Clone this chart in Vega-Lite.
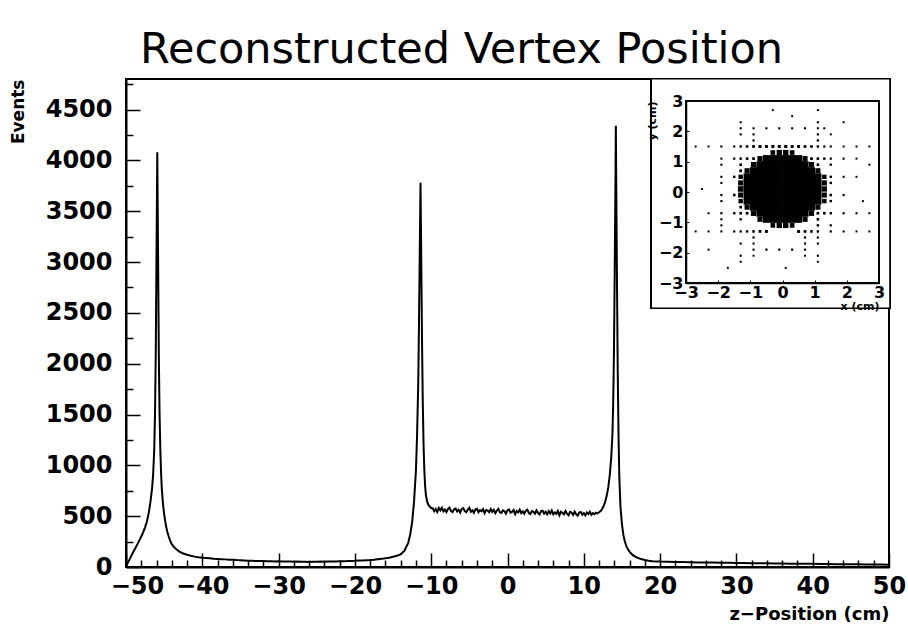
{
"$schema": "https://vega.github.io/schema/vega-lite/v6.json",
"width": 763,
"height": 488,
"autosize": {"type": "none"},
"padding": {"left": 126, "top": 79, "right": 19, "bottom": 59},
"background": "white",
"config": {"view": {"stroke": "black", "strokeWidth": 2}, "font": "DejaVu Sans"},
"title": {"text": "Reconstructed Vertex Position", "fontSize": 43, "fontWeight": "normal", "font": "DejaVu Sans", "color": "black", "anchor": "middle", "frame": "group", "dx": -46, "dy": 47, "baseline": "alphabetic", "offset": 13},
"datasets": {
"zpos": [
{"z":-50,"events":10},{"z":-49.75,"events":45},{"z":-49.5,"events":80},{"z":-49.25,"events":118},{"z":-49,"events":155},{"z":-48.75,"events":190},{"z":-48.5,"events":225},{"z":-48.25,"events":262},{"z":-48,"events":300},{"z":-47.75,"events":340},{"z":-47.5,"events":390},{"z":-47.25,"events":450},{"z":-47,"events":540},{"z":-46.8,"events":640},{"z":-46.6,"events":760},{"z":-46.45,"events":900},{"z":-46.3,"events":1150},{"z":-46.2,"events":1500},{"z":-46.1,"events":2100},{"z":-46,"events":3100},{"z":-45.9,"events":4080},{"z":-45.8,"events":3100},{"z":-45.7,"events":2100},{"z":-45.6,"events":1500},{"z":-45.5,"events":1150},{"z":-45.4,"events":920},{"z":-45.3,"events":760},{"z":-45.15,"events":620},{"z":-45,"events":520},{"z":-44.8,"events":420},{"z":-44.6,"events":350},{"z":-44.4,"events":300},{"z":-44.2,"events":257},{"z":-44,"events":225},{"z":-43.7,"events":195},{"z":-43.4,"events":175},{"z":-43,"events":152},{"z":-42.5,"events":133},{"z":-42,"events":120},{"z":-41.5,"events":110},{"z":-41,"events":102},{"z":-40.5,"events":96},{"z":-40,"events":91},{"z":-39.5,"events":88},{"z":-39,"events":85},{"z":-38.5,"events":81},{"z":-38,"events":79},{"z":-37.5,"events":77},{"z":-37,"events":75},{"z":-36.5,"events":72},{"z":-36,"events":71},{"z":-35.5,"events":68},{"z":-35,"events":67},{"z":-34.5,"events":65},{"z":-34,"events":62},{"z":-33.5,"events":61},{"z":-33,"events":60},{"z":-32.5,"events":58},{"z":-32,"events":59},{"z":-31.5,"events":56},{"z":-31,"events":57},{"z":-30.5,"events":55},{"z":-30,"events":56},{"z":-29.5,"events":54},{"z":-29,"events":53},{"z":-28.5,"events":55},{"z":-28,"events":52},{"z":-27.5,"events":53},{"z":-27,"events":51},{"z":-26.5,"events":52},{"z":-26,"events":50},{"z":-25.5,"events":52},{"z":-25,"events":51},{"z":-24.5,"events":53},{"z":-24,"events":52},{"z":-23.5,"events":54},{"z":-23,"events":53},{"z":-22.5,"events":55},{"z":-22,"events":56},{"z":-21.5,"events":57},{"z":-21,"events":58},{"z":-20.5,"events":60},{"z":-20,"events":61},{"z":-19.5,"events":63},{"z":-19,"events":64},{"z":-18.5,"events":67},{"z":-18,"events":69},{"z":-17.5,"events":72},{"z":-17,"events":76},{"z":-16.5,"events":80},{"z":-16,"events":85},{"z":-15.5,"events":92},{"z":-15,"events":100},{"z":-14.5,"events":110},{"z":-14,"events":125},{"z":-13.5,"events":160},{"z":-13,"events":240},{"z":-12.75,"events":320},{"z":-12.5,"events":440},{"z":-12.25,"events":640},{"z":-12,"events":950},{"z":-11.85,"events":1300},{"z":-11.7,"events":1800},{"z":-11.6,"events":2400},{"z":-11.5,"events":3100},{"z":-11.4,"events":3780},{"z":-11.3,"events":3000},{"z":-11.2,"events":2200},{"z":-11.1,"events":1600},{"z":-11,"events":1200},{"z":-10.9,"events":950},{"z":-10.8,"events":800},{"z":-10.7,"events":710},{"z":-10.55,"events":650},{"z":-10.4,"events":615},{"z":-10.2,"events":595},{"z":-10,"events":580},
{"z":-9.8,"events":578},{"z":-9.6,"events":548},{"z":-9.4,"events":570},{"z":-9.2,"events":541},{"z":-9,"events":581},{"z":-8.8,"events":557},{"z":-8.6,"events":583},{"z":-8.4,"events":548},{"z":-8.2,"events":565},{"z":-8,"events":540},{"z":-7.8,"events":572},{"z":-7.6,"events":584},{"z":-7.4,"events":550},{"z":-7.2,"events":541},{"z":-7,"events":567},{"z":-6.8,"events":575},{"z":-6.6,"events":546},{"z":-6.4,"events":563},{"z":-6.2,"events":534},{"z":-6,"events":571},{"z":-5.8,"events":579},{"z":-5.6,"events":549},{"z":-5.4,"events":538},{"z":-5.2,"events":566},{"z":-5,"events":583},{"z":-4.8,"events":544},{"z":-4.6,"events":557},{"z":-4.4,"events":533},{"z":-4.2,"events":567},{"z":-4,"events":573},{"z":-3.8,"events":539},{"z":-3.6,"events":559},{"z":-3.4,"events":548},{"z":-3.2,"events":570},{"z":-3,"events":530},{"z":-2.8,"events":561},{"z":-2.6,"events":554},{"z":-2.4,"events":538},{"z":-2.2,"events":571},{"z":-2,"events":542},{"z":-1.8,"events":563},{"z":-1.6,"events":530},{"z":-1.4,"events":554},{"z":-1.2,"events":572},{"z":-1,"events":538},{"z":-0.8,"events":532},{"z":-0.6,"events":558},{"z":-0.4,"events":549},{"z":-0.2,"events":525},{"z":0,"events":559},{"z":0.2,"events":565},{"z":0.4,"events":534},{"z":0.6,"events":542},{"z":0.8,"events":561},{"z":1,"events":520},{"z":1.2,"events":552},{"z":1.4,"events":537},{"z":1.6,"events":564},{"z":1.8,"events":529},{"z":2,"events":547},{"z":2.2,"events":524},{"z":2.4,"events":554},{"z":2.6,"events":563},{"z":2.8,"events":531},{"z":3,"events":521},{"z":3.2,"events":550},{"z":3.4,"events":543},{"z":3.6,"events":525},{"z":3.8,"events":557},{"z":4,"events":533},{"z":4.2,"events":516},{"z":4.4,"events":549},{"z":4.6,"events":553},{"z":4.8,"events":524},{"z":5,"events":543},{"z":5.2,"events":517},{"z":5.4,"events":550},{"z":5.6,"events":527},{"z":5.8,"events":556},{"z":6,"events":519},{"z":6.2,"events":537},{"z":6.4,"events":523},{"z":6.6,"events":551},{"z":6.8,"events":509},{"z":7,"events":543},{"z":7.2,"events":534},{"z":7.4,"events":518},{"z":7.6,"events":551},{"z":7.8,"events":525},{"z":8,"events":510},{"z":8.2,"events":543},{"z":8.4,"events":535},{"z":8.6,"events":512},{"z":8.8,"events":545},{"z":9,"events":519},{"z":9.2,"events":506},{"z":9.4,"events":536},{"z":9.6,"events":542},{"z":9.8,"events":514},{"z":10,"events":530},{"z":10.2,"events":508},{"z":10.4,"events":537},{"z":10.6,"events":521},{"z":10.8,"events":543},{"z":11,"events":514},{"z":11.2,"events":530},{"z":11.4,"events":519},{"z":11.6,"events":534},{"z":11.8,"events":527},
{"z":12,"events":538},{"z":12.2,"events":550},{"z":12.4,"events":570},{"z":12.6,"events":600},{"z":12.8,"events":640},{"z":13,"events":700},{"z":13.2,"events":780},{"z":13.4,"events":900},{"z":13.6,"events":1080},{"z":13.75,"events":1300},{"z":13.85,"events":1600},{"z":13.95,"events":2100},{"z":14.05,"events":2900},{"z":14.15,"events":3800},{"z":14.2,"events":4340},{"z":14.25,"events":3800},{"z":14.35,"events":2800},{"z":14.45,"events":1900},{"z":14.55,"events":1300},{"z":14.65,"events":900},{"z":14.8,"events":600},{"z":15,"events":420},{"z":15.2,"events":310},{"z":15.4,"events":245},{"z":15.6,"events":200},{"z":15.9,"events":160},{"z":16.2,"events":132},{"z":16.5,"events":112},{"z":17,"events":92},{"z":17.5,"events":78},{"z":18,"events":68},{"z":18.5,"events":62},{"z":19,"events":57},{"z":19.5,"events":55},{"z":20,"events":53},{"z":21,"events":51},{"z":22,"events":49},{"z":23,"events":48},{"z":24,"events":47},{"z":25,"events":45},{"z":26,"events":44},{"z":27,"events":44},{"z":28,"events":42},{"z":29,"events":41},{"z":30,"events":40},{"z":31,"events":39},{"z":32,"events":38},{"z":33,"events":38},{"z":34,"events":36},{"z":35,"events":35},{"z":36,"events":35},{"z":37,"events":33},{"z":38,"events":33},{"z":39,"events":31},{"z":40,"events":31},{"z":41,"events":30},{"z":42,"events":29},{"z":43,"events":28},{"z":44,"events":28},{"z":45,"events":27},{"z":46,"events":26},{"z":47,"events":25},{"z":48,"events":25},{"z":49,"events":24},{"z":50,"events":22}
],
"xy": [
{"x":-0.5,"y":1.1,"n":100},{"x":-0.3,"y":1.1,"n":100},{"x":-0.1,"y":1.1,"n":100},{"x":0.1,"y":1.1,"n":100},{"x":0.3,"y":1.1,"n":100},{"x":0.5,"y":1.1,"n":100},
{"x":-0.7,"y":0.9,"n":100},{"x":-0.5,"y":0.9,"n":100},{"x":-0.3,"y":0.9,"n":100},{"x":-0.1,"y":0.9,"n":100},{"x":0.1,"y":0.9,"n":100},{"x":0.3,"y":0.9,"n":100},{"x":0.5,"y":0.9,"n":100},{"x":0.7,"y":0.9,"n":100},
{"x":-0.9,"y":0.7,"n":100},{"x":-0.7,"y":0.7,"n":100},{"x":-0.5,"y":0.7,"n":100},{"x":-0.3,"y":0.7,"n":100},{"x":-0.1,"y":0.7,"n":100},{"x":0.1,"y":0.7,"n":100},{"x":0.3,"y":0.7,"n":100},{"x":0.5,"y":0.7,"n":100},{"x":0.7,"y":0.7,"n":100},{"x":0.9,"y":0.7,"n":100},
{"x":-1.1,"y":0.5,"n":100},{"x":-0.9,"y":0.5,"n":100},{"x":-0.7,"y":0.5,"n":100},{"x":-0.5,"y":0.5,"n":100},{"x":-0.3,"y":0.5,"n":100},{"x":-0.1,"y":0.5,"n":100},{"x":0.1,"y":0.5,"n":100},{"x":0.3,"y":0.5,"n":100},{"x":0.5,"y":0.5,"n":100},{"x":0.7,"y":0.5,"n":100},{"x":0.9,"y":0.5,"n":100},{"x":1.1,"y":0.5,"n":100},
{"x":-1.1,"y":0.3,"n":100},{"x":-0.9,"y":0.3,"n":100},{"x":-0.7,"y":0.3,"n":100},{"x":-0.5,"y":0.3,"n":100},{"x":-0.3,"y":0.3,"n":100},{"x":-0.1,"y":0.3,"n":100},{"x":0.1,"y":0.3,"n":100},{"x":0.3,"y":0.3,"n":100},{"x":0.5,"y":0.3,"n":100},{"x":0.7,"y":0.3,"n":100},{"x":0.9,"y":0.3,"n":100},{"x":1.1,"y":0.3,"n":100},
{"x":-1.1,"y":0.1,"n":100},{"x":-0.9,"y":0.1,"n":100},{"x":-0.7,"y":0.1,"n":100},{"x":-0.5,"y":0.1,"n":100},{"x":-0.3,"y":0.1,"n":100},{"x":-0.1,"y":0.1,"n":100},{"x":0.1,"y":0.1,"n":100},{"x":0.3,"y":0.1,"n":100},{"x":0.5,"y":0.1,"n":100},{"x":0.7,"y":0.1,"n":100},{"x":0.9,"y":0.1,"n":100},{"x":1.1,"y":0.1,"n":100},
{"x":-1.1,"y":-0.1,"n":100},{"x":-0.9,"y":-0.1,"n":100},{"x":-0.7,"y":-0.1,"n":100},{"x":-0.5,"y":-0.1,"n":100},{"x":-0.3,"y":-0.1,"n":100},{"x":-0.1,"y":-0.1,"n":100},{"x":0.1,"y":-0.1,"n":100},{"x":0.3,"y":-0.1,"n":100},{"x":0.5,"y":-0.1,"n":100},{"x":0.7,"y":-0.1,"n":100},{"x":0.9,"y":-0.1,"n":100},{"x":1.1,"y":-0.1,"n":100},
{"x":-1.1,"y":-0.3,"n":100},{"x":-0.9,"y":-0.3,"n":100},{"x":-0.7,"y":-0.3,"n":100},{"x":-0.5,"y":-0.3,"n":100},{"x":-0.3,"y":-0.3,"n":100},{"x":-0.1,"y":-0.3,"n":100},{"x":0.1,"y":-0.3,"n":100},{"x":0.3,"y":-0.3,"n":100},{"x":0.5,"y":-0.3,"n":100},{"x":0.7,"y":-0.3,"n":100},{"x":0.9,"y":-0.3,"n":100},{"x":1.1,"y":-0.3,"n":100},
{"x":-0.9,"y":-0.5,"n":100},{"x":-0.7,"y":-0.5,"n":100},{"x":-0.5,"y":-0.5,"n":100},{"x":-0.3,"y":-0.5,"n":100},{"x":-0.1,"y":-0.5,"n":100},{"x":0.1,"y":-0.5,"n":100},{"x":0.3,"y":-0.5,"n":100},{"x":0.5,"y":-0.5,"n":100},{"x":0.7,"y":-0.5,"n":100},{"x":0.9,"y":-0.5,"n":100},
{"x":-0.7,"y":-0.7,"n":100},{"x":-0.5,"y":-0.7,"n":100},{"x":-0.3,"y":-0.7,"n":100},{"x":-0.1,"y":-0.7,"n":100},{"x":0.1,"y":-0.7,"n":100},{"x":0.3,"y":-0.7,"n":100},{"x":0.5,"y":-0.7,"n":100},{"x":0.7,"y":-0.7,"n":100},
{"x":-0.5,"y":-0.9,"n":100},{"x":-0.3,"y":-0.9,"n":100},{"x":-0.1,"y":-0.9,"n":100},{"x":0.1,"y":-0.9,"n":100},{"x":0.3,"y":-0.9,"n":100},{"x":0.5,"y":-0.9,"n":100},
{"x":-0.3,"y":1.3,"n":40},{"x":-0.1,"y":1.3,"n":55},{"x":0.1,"y":1.3,"n":55},{"x":0.3,"y":1.3,"n":40},
{"x":-0.7,"y":1.1,"n":50},{"x":0.7,"y":1.1,"n":50},{"x":-0.9,"y":0.9,"n":55},{"x":0.9,"y":0.9,"n":55},{"x":-1.1,"y":0.7,"n":50},{"x":1.1,"y":0.7,"n":50},{"x":-1.3,"y":0.5,"n":35},{"x":1.3,"y":0.5,"n":35},{"x":-1.3,"y":0.3,"n":50},{"x":1.3,"y":0.3,"n":50},{"x":-1.3,"y":0.1,"n":60},{"x":1.3,"y":0.1,"n":55},{"x":-1.3,"y":-0.1,"n":50},{"x":1.3,"y":-0.1,"n":50},{"x":-1.3,"y":-0.3,"n":35},{"x":1.3,"y":-0.3,"n":35},{"x":-1.1,"y":-0.5,"n":50},{"x":1.1,"y":-0.5,"n":50},{"x":-0.9,"y":-0.7,"n":55},{"x":0.9,"y":-0.7,"n":55},{"x":-0.7,"y":-0.9,"n":50},{"x":0.7,"y":-0.9,"n":50},
{"x":-0.3,"y":-1.1,"n":40},{"x":-0.1,"y":-1.1,"n":55},{"x":0.1,"y":-1.1,"n":55},{"x":0.3,"y":-1.1,"n":40},
{"x":-1.3,"y":2.1,"n":3},{"x":-0.9,"y":2.1,"n":3},{"x":-0.5,"y":2.1,"n":3},{"x":-0.1,"y":2.1,"n":3},{"x":0.3,"y":2.1,"n":3},{"x":0.7,"y":2.1,"n":3},{"x":1.1,"y":2.1,"n":3},{"x":1.3,"y":2.1,"n":3},
{"x":-2.7,"y":1.5,"n":2},{"x":-2.3,"y":1.5,"n":2},{"x":-1.9,"y":1.5,"n":3},{"x":-1.5,"y":1.5,"n":3},{"x":-1.3,"y":1.5,"n":6},{"x":-1.1,"y":1.5,"n":8},{"x":-0.9,"y":1.5,"n":10},{"x":-0.7,"y":1.5,"n":12},{"x":-0.5,"y":1.5,"n":12},{"x":-0.3,"y":1.5,"n":14},{"x":-0.1,"y":1.5,"n":14},{"x":0.1,"y":1.5,"n":14},{"x":0.3,"y":1.5,"n":12},{"x":0.5,"y":1.5,"n":12},{"x":0.7,"y":1.5,"n":10},{"x":0.9,"y":1.5,"n":8},{"x":1.1,"y":1.5,"n":6},{"x":1.3,"y":1.5,"n":4},{"x":1.5,"y":1.5,"n":3},{"x":1.9,"y":1.5,"n":2},{"x":2.3,"y":1.5,"n":2},{"x":2.7,"y":1.5,"n":2},
{"x":-1.9,"y":1.1,"n":3},{"x":-1.5,"y":1.1,"n":4},{"x":-1.3,"y":1.1,"n":6},{"x":-1.1,"y":1.1,"n":8},{"x":-0.9,"y":1.1,"n":10},{"x":0.9,"y":1.1,"n":10},{"x":1.1,"y":1.1,"n":8},{"x":1.3,"y":1.1,"n":6},{"x":1.5,"y":1.1,"n":4},{"x":1.9,"y":1.1,"n":3},{"x":2.3,"y":1.1,"n":2},
{"x":-1.9,"y":0.5,"n":3},{"x":-1.5,"y":0.5,"n":6},{"x":1.5,"y":0.5,"n":6},{"x":1.9,"y":0.5,"n":3},{"x":2.3,"y":0.5,"n":2},
{"x":-1.9,"y":-0.1,"n":4},{"x":-1.5,"y":-0.1,"n":8},{"x":1.5,"y":-0.1,"n":8},{"x":1.9,"y":-0.1,"n":4},
{"x":-2.3,"y":-0.7,"n":2},{"x":-1.9,"y":-0.7,"n":4},{"x":-1.5,"y":-0.7,"n":6},{"x":-1.3,"y":-0.7,"n":8},{"x":-1.1,"y":-0.7,"n":10},{"x":1.1,"y":-0.7,"n":10},{"x":1.3,"y":-0.7,"n":8},{"x":1.5,"y":-0.7,"n":6},{"x":1.9,"y":-0.7,"n":4},{"x":2.3,"y":-0.7,"n":3},{"x":2.7,"y":-0.7,"n":2},
{"x":-2.7,"y":-1.3,"n":2},{"x":-2.3,"y":-1.3,"n":2},{"x":-1.9,"y":-1.3,"n":3},{"x":-1.5,"y":-1.3,"n":4},{"x":-1.3,"y":-1.3,"n":5},{"x":-1.1,"y":-1.3,"n":6},{"x":-0.9,"y":-1.3,"n":8},{"x":-0.7,"y":-1.3,"n":10},{"x":-0.5,"y":-1.3,"n":12},{"x":0.5,"y":-1.3,"n":12},{"x":0.7,"y":-1.3,"n":10},{"x":0.9,"y":-1.3,"n":8},{"x":1.1,"y":-1.3,"n":6},{"x":1.5,"y":-1.3,"n":4},{"x":1.9,"y":-1.3,"n":3},{"x":2.3,"y":-1.3,"n":2},{"x":2.7,"y":-1.3,"n":2},
{"x":-0.9,"y":-1.9,"n":3},{"x":-0.5,"y":-1.9,"n":4},{"x":-0.1,"y":-1.9,"n":4},{"x":0.3,"y":-1.9,"n":4},{"x":0.7,"y":-1.9,"n":3},
{"x":-1.9,"y":0.9,"n":3},{"x":-1.9,"y":0.3,"n":3},{"x":-1.9,"y":-0.3,"n":3},{"x":-1.9,"y":-0.9,"n":3},{"x":-1.9,"y":-1.1,"n":3},
{"x":-1.3,"y":2.3,"n":2},{"x":-1.3,"y":1.9,"n":3},{"x":-1.3,"y":0.9,"n":8},{"x":-1.3,"y":0.7,"n":10},{"x":-1.3,"y":-0.5,"n":8},{"x":-1.3,"y":-0.9,"n":6},{"x":-1.3,"y":-1.7,"n":3},{"x":-1.3,"y":-2.1,"n":3},{"x":-1.3,"y":-2.3,"n":2},
{"x":-0.9,"y":1.9,"n":3},{"x":-0.9,"y":1.7,"n":4},{"x":-0.9,"y":-1.5,"n":4},{"x":-0.9,"y":-1.7,"n":3},{"x":-0.9,"y":-2.1,"n":2},
{"x":0.7,"y":-1.5,"n":4},{"x":0.7,"y":-1.7,"n":3},{"x":0.7,"y":-2.1,"n":2},
{"x":1.1,"y":2.7,"n":2},{"x":1.1,"y":2.3,"n":3},{"x":1.1,"y":1.9,"n":4},{"x":1.1,"y":1.7,"n":5},{"x":1.1,"y":0.9,"n":8},{"x":1.1,"y":-0.9,"n":8},{"x":1.1,"y":-1.1,"n":6},{"x":1.1,"y":-1.5,"n":4},{"x":1.1,"y":-1.7,"n":3},{"x":1.1,"y":-2.1,"n":3},{"x":1.1,"y":-2.3,"n":2},
{"x":1.5,"y":1.9,"n":2},{"x":1.5,"y":0.9,"n":5},{"x":1.5,"y":0.3,"n":6},{"x":1.5,"y":-0.3,"n":6},{"x":1.5,"y":-1.1,"n":4},
{"x":-2.5,"y":0.1,"n":2},{"x":2.5,"y":-0.3,"n":2},{"x":0.3,"y":2.5,"n":2},{"x":-1.7,"y":-2.5,"n":2},{"x":2.7,"y":0.9,"n":2},{"x":-2.3,"y":-1.9,"n":2},{"x":0.1,"y":-2.5,"n":2},{"x":1.9,"y":2.3,"n":2},{"x":-0.3,"y":2.7,"n":2}
]
},
"layer": [
{
"data": {"name": "zpos"},
"mark": {"type": "line", "color": "black", "strokeWidth": 2, "interpolate": "linear"},
"encoding": {
"x": {"field": "z", "type": "quantitative",
"scale": {"domain": [-50, 50], "nice": false, "zero": false},
"axis": {"orient": "bottom", "values": [-50,-48,-46,-44,-42,-40,-38,-36,-34,-32,-30,-28,-26,-24,-22,-20,-18,-16,-14,-12,-10,-8,-6,-4,-2,0,2,4,6,8,10,12,14,16,18,20,22,24,26,28,30,32,34,36,38,40,42,44,46,48,50],
"format": "d", "labelExpr": "datum.value % 10 === 0 ? datum.label : ''",
"tickSize": {"condition": {"test": "datum.value % 10 === 0", "value": -14}, "value": -7},
"labelOffset": {"condition": {"test": "datum.value === -50", "value": 11}, "value": 0},
"tickColor": "black", "tickWidth": 1.5, "domainColor": "black", "domainWidth": 2, "grid": false,
"labelFontSize": 24, "labelFontWeight": "bold", "labelColor": "black", "labelPadding": 21, "labelOverlap": false, "labelBound": false, "labelFlush": false,
"title": "z−Position (cm)", "titleAnchor": "end", "titleFontSize": 18, "titleFontWeight": "bold", "titleColor": "black", "titlePadding": 0}},
"y": {"field": "events", "type": "quantitative",
"scale": {"domain": [0, 4800], "nice": false},
"axis": {"orient": "left", "values": [0,250,500,750,1000,1250,1500,1750,2000,2250,2500,2750,3000,3250,3500,3750,4000,4250,4500,4750],
"format": "d", "labelExpr": "datum.value % 500 === 0 ? datum.label : ''",
"tickSize": {"condition": {"test": "datum.value % 500 === 0", "value": -14}, "value": -7},
"tickColor": "black", "tickWidth": 1.5, "domainColor": "black", "domainWidth": 2, "grid": false,
"labelFontSize": 24, "labelFontWeight": "bold", "labelColor": "black", "labelPadding": 28, "labelOverlap": false, "labelBound": false, "labelFlush": false,
"title": "Events", "titleAnchor": "end", "titleFontSize": 17, "titleFontWeight": "bold", "titleColor": "black", "titlePadding": 18}}
}
},
{
"data": {"name": "xy"},
"layer": [
{
"mark": {"type": "rect", "fill": "white", "stroke": "black", "strokeWidth": 1.5},
"encoding": {"x": {"datum": -4.08, "type": "quantitative"}, "x2": {"datum": 3.34}, "y": {"datum": -3.83, "type": "quantitative"}, "y2": {"datum": 3.73}}
},
{
"mark": {"type": "rect", "fillOpacity": 0, "fill": "white", "stroke": "black", "strokeWidth": 1.5},
"encoding": {"x": {"datum": -3, "type": "quantitative"}, "x2": {"datum": 3}, "y": {"datum": -3, "type": "quantitative"}, "y2": {"datum": 3}}
},
{
"mark": {"type": "square", "color": "black", "filled": true, "opacity": 1},
"encoding": {
"x": {"field": "x", "type": "quantitative",
"scale": {"domain": [-3, 3], "range": [560, 753], "nice": false, "zero": false},
"axis": {"orient": "bottom", "offset": -284, "zindex": 1, "values": [-3,-2,-1,0,1,2,3], "format": "d",
"tickSize": -3, "tickColor": "black", "domainColor": "black", "domainWidth": 1.5, "grid": false,
"labelFontSize": 16, "labelFontWeight": "bold", "labelColor": "black", "labelPadding": 4, "labelOverlap": false, "labelBound": false, "labelFlush": false,
"title": "x (cm)", "titleAnchor": "end", "titleFontSize": 11, "titleFontWeight": "bold", "titleColor": "black", "titlePadding": 0}},
"y": {"field": "y", "type": "quantitative",
"scale": {"domain": [-3, 3], "range": [204, 22], "nice": false, "zero": false},
"axis": {"orient": "left", "offset": -560, "zindex": 1, "values": [-3,-2,-1,0,1,2,3], "format": "d",
"tickSize": -3, "tickColor": "black", "domainColor": "black", "domainWidth": 1.5, "grid": false,
"labelFontSize": 16, "labelFontWeight": "bold", "labelColor": "black", "labelPadding": 6, "labelOverlap": false, "labelBound": false, "labelFlush": false,
"title": "y (cm)", "titleAnchor": "end", "titleFontSize": 11, "titleFontWeight": "bold", "titleColor": "black", "titlePadding": 1}},
"size": {"field": "n", "type": "quantitative", "scale": {"domain": [0, 100], "range": [3, 50]}, "legend": null}
}
}
]
}
],
"resolve": {"scale": {"x": "independent", "y": "independent"}, "axis": {"x": "independent", "y": "independent"}}
}
